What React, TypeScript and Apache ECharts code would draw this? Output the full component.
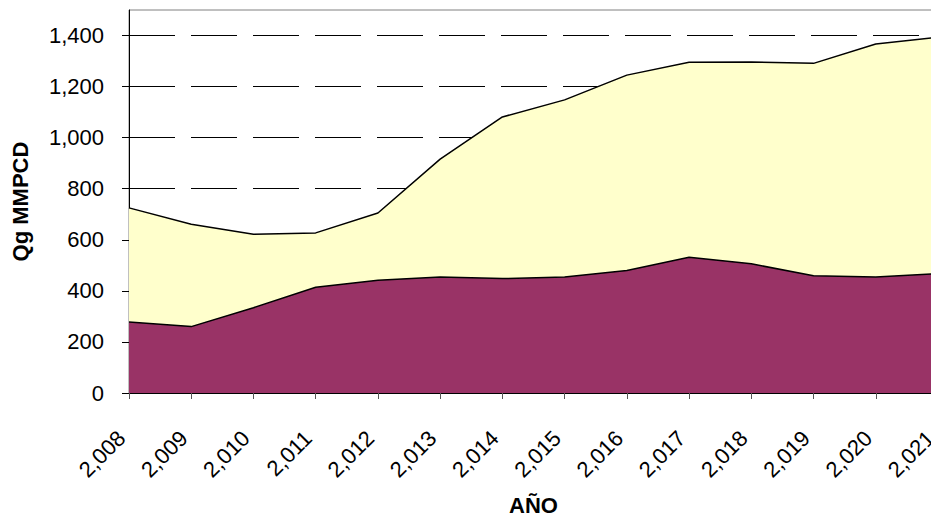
import React, { useEffect, useRef } from "react";
import * as echarts from "echarts";

const years = [2008, 2009, 2010, 2011, 2012, 2013, 2014, 2015, 2016, 2017, 2018, 2019, 2020, 2021];
const lowerSeries = [278, 260, 334, 414, 442, 454, 448, 454, 480, 532, 506, 459, 454, 468];
const upperSeries = [447, 401, 288, 213, 263, 462, 633, 694, 765, 763, 790, 832, 913, 925];
const yTicks = [0, 200, 400, 600, 800, 1000, 1200, 1400];
const xTitle = "AÑO";
const yTitle = "Qg MMPCD";

const fmt = (v: number) => v.toLocaleString("en-US");

export default function App() {
  const ref = useRef<HTMLDivElement>(null);
  useEffect(() => {
    if (!ref.current) return;
    const chart = echarts.init(ref.current, null, { renderer: "svg" });
    const font = "Liberation Sans, Arial, sans-serif";
    chart.setOption({
      animation: false,
      backgroundColor: "#ffffff",
      grid: {
        left: 129,
        top: 10,
        right: -7,
        bottom: 125,
        show: true,
        borderColor: "#808080",
        borderWidth: 1,
        backgroundColor: "transparent",
        containLabel: false,
        outerBoundsMode: "none",
      },
      xAxis: {
        type: "category",
        boundaryGap: false,
        data: years.map((y) => fmt(y)),
        axisLine: { lineStyle: { color: "#000", width: 1 } },
        axisTick: { show: true, length: 6, alignWithLabel: true, interval: 0, lineStyle: { color: "#555" } },
        axisLabel: { show: false },
        splitLine: { show: false },
      },
      yAxis: {
        type: "value",
        min: 0,
        max: 1500,
        interval: 100,
        name: yTitle,
        nameLocation: "middle",
        nameGap: 98,
        nameTextStyle: { fontFamily: font, fontWeight: "bold", fontSize: 22, color: "#000" },
        axisLine: { show: true, lineStyle: { color: "#000", width: 1 } },
        axisTick: {
          show: true,
          length: 7,
          customValues: yTicks,
          lineStyle: { color: "#000" },
        },
        axisLabel: {
          customValues: yTicks,
          margin: 25,
          fontFamily: font,
          fontSize: 22,
          color: "#000",
          formatter: (v: number) => (yTicks.includes(v) ? fmt(v) : ""),
        },
        splitLine: {
          show: true,
          lineStyle: { color: "#000", width: 1, type: [46, 16] },
        },
      },
      series: [
        {
          type: "line",
          stack: "total",
          data: lowerSeries,
          symbol: "none",
          lineStyle: { color: "#000", width: 1.5 },
          areaStyle: { color: "#993366", opacity: 1 },
          z: 4,
        },
        {
          type: "line",
          stack: "total",
          data: upperSeries,
          symbol: "none",
          lineStyle: { color: "#000", width: 1.5 },
          areaStyle: { color: "#FFFFCC", opacity: 1 },
          z: 3,
        },
      ],
    });

    // Rotated category labels and the x-axis title, placed from the axis' own pixel positions
    const pts = years.map((_, i) => chart.convertToPixel({ gridIndex: 0 }, [i, 0]) as number[]);
    const labels = years.map((yr, i) => ({
      type: "text",
      x: pts[i][0] - 7.5,
      y: pts[i][1] + 41.5,
      rotation: Math.PI / 4,
      silent: true,
      style: {
        text: fmt(yr),
        fontFamily: font,
        fontSize: 22,
        fill: "#000",
        align: "right",
        verticalAlign: "middle",
      },
    }));
    const first = pts[0];
    const last = pts[pts.length - 1];
    const title = {
      type: "text",
      x: (first[0] + last[0]) / 2,
      y: first[1] + 112,
      silent: true,
      style: {
        text: xTitle,
        fontFamily: font,
        fontWeight: "bold",
        fontSize: 22,
        fill: "#000",
        align: "center",
        verticalAlign: "middle",
      },
    };
    chart.setOption({ graphic: [...labels, title] });
    return () => chart.dispose();
  }, []);
  return (
    <div
      ref={ref}
      style={{ position: "absolute", left: 0, top: 0, width: 931, height: 518, overflow: "hidden" }}
    />
  );
}
